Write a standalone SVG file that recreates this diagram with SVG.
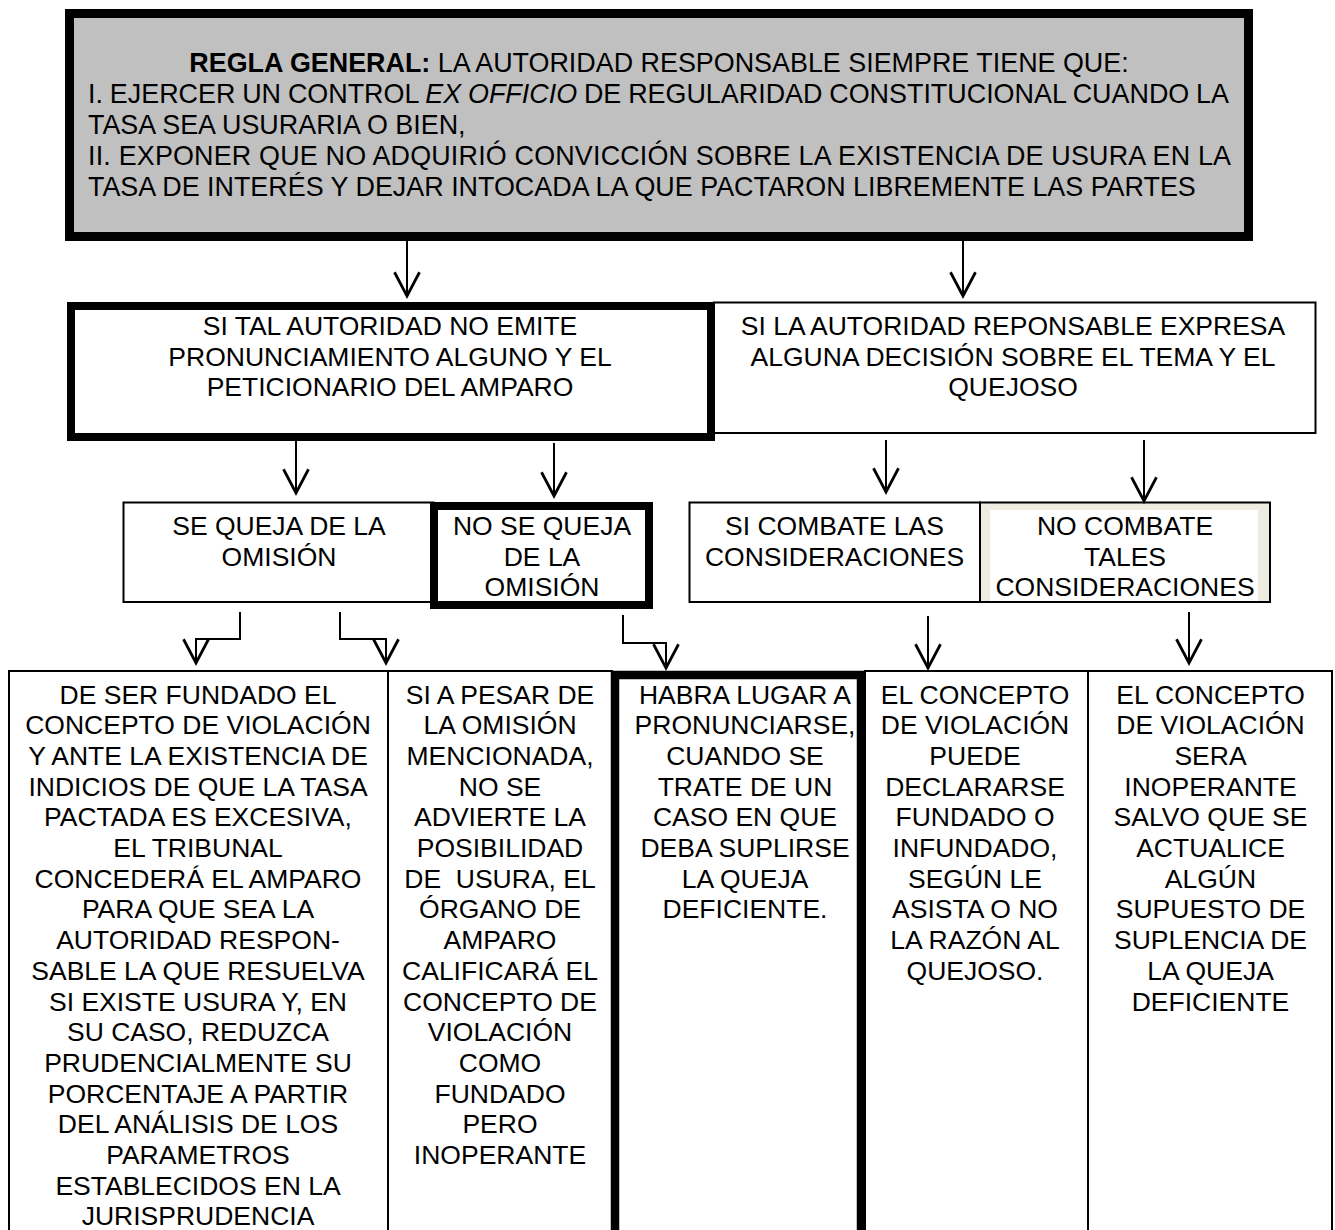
<svg xmlns="http://www.w3.org/2000/svg" width="1335" height="1230" viewBox="0 0 1335 1230">
<style>
text{font-family:"Liberation Sans",Arial,sans-serif;font-size:26.5px;fill:#000}
.top{font-size:26.9px}
.c{text-anchor:middle}
.thin{fill:#fff;stroke:#000;stroke-width:2}
.conn{fill:none;stroke:#000;stroke-width:2}
</style>
<defs>
<marker id="arr" markerUnits="userSpaceOnUse" markerWidth="30" markerHeight="30" refX="0" refY="0" viewBox="-22 -12 24 24" orient="auto" overflow="visible">
<path d="M-19,-10 L0,0 L-19,10" fill="none" stroke="#000" stroke-width="2.2"/>
</marker>
</defs>
<rect width="1335" height="1230" fill="#fff"/>

<g id="regla-general">
<rect x="69.5" y="13.5" width="1179" height="223" fill="#c0c0c0" stroke="#000" stroke-width="9"/>
<text class="c top" x="659" y="72"><tspan font-weight="bold">REGLA GENERAL:</tspan> LA AUTORIDAD RESPONSABLE SIEMPRE TIENE QUE:</text>
<text class="top" x="88" y="103" word-spacing="-0.6">I. EJERCER UN CONTROL <tspan font-style="italic">EX OFFICIO</tspan> DE REGULARIDAD CONSTITUCIONAL CUANDO LA</text>
<text class="top" x="88" y="134">TASA SEA USURARIA O BIEN,</text>
<text class="top" x="88" y="165" textLength="1143" lengthAdjust="spacing">II. EXPONER QUE NO ADQUIRIÓ CONVICCIÓN SOBRE LA EXISTENCIA DE USURA EN LA</text>
<text class="top" x="88" y="196">TASA DE INTERÉS Y DEJAR INTOCADA LA QUE PACTARON LIBREMENTE LAS PARTES</text>
</g>

<g id="expresa-decision">
<rect class="thin" x="714" y="302.5" width="601.5" height="130.5"/>
<text class="c" x="1013"><tspan x="1013" y="335">SI LA AUTORIDAD REPONSABLE EXPRESA</tspan><tspan x="1013" y="366">ALGUNA DECISIÓN SOBRE EL TEMA Y EL</tspan><tspan x="1013" y="396">QUEJOSO</tspan></text>
</g>

<g id="no-emite">
<rect x="71" y="306" width="640" height="131" fill="#fff" stroke="#000" stroke-width="8"/>
<text class="c" x="390"><tspan x="390" y="335">SI TAL AUTORIDAD NO EMITE</tspan><tspan x="390" y="366">PRONUNCIAMIENTO ALGUNO Y EL</tspan><tspan x="390" y="396">PETICIONARIO DEL AMPARO</tspan></text>
</g>

<g id="se-queja">
<rect class="thin" x="123.5" y="502.5" width="310" height="99.5"/>
<text class="c" x="279"><tspan x="279" y="535">SE QUEJA DE LA</tspan><tspan x="279" y="566">OMISIÓN</tspan></text>
</g>

<g id="no-se-queja">
<rect x="434" y="506" width="215" height="99" fill="#fff" stroke="#000" stroke-width="8"/>
<text class="c" x="542"><tspan x="542" y="535">NO SE QUEJA</tspan><tspan x="542" y="566">DE LA</tspan><tspan x="542" y="596">OMISIÓN</tspan></text>
</g>

<g id="si-combate">
<rect class="thin" x="689.5" y="502.5" width="290.5" height="99.5"/>
<text class="c" x="834.5"><tspan x="834.5" y="535">SI COMBATE LAS</tspan><tspan x="834.5" y="566">CONSIDERACIONES</tspan></text>
</g>

<g id="no-combate">
<rect x="980" y="502.5" width="290" height="99.5" fill="#eeece1" stroke="#000" stroke-width="2"/>
<rect x="990" y="510" width="268" height="91" fill="#fff"/>
<text class="c" x="1125"><tspan x="1125" y="535">NO COMBATE</tspan><tspan x="1125" y="566">TALES</tspan><tspan x="1125" y="596">CONSIDERACIONES</tspan></text>
</g>

<g id="fundado-concepto">
<rect class="thin" x="9" y="671" width="379" height="600"/>
<text class="c" x="198"><tspan x="198" y="703.5">DE SER FUNDADO EL</tspan><tspan x="198" y="734.2">CONCEPTO DE VIOLACIÓN</tspan><tspan x="198" y="764.9">Y ANTE LA EXISTENCIA DE</tspan><tspan x="198" y="795.6">INDICIOS DE QUE LA TASA</tspan><tspan x="198" y="826.3">PACTADA ES EXCESIVA,</tspan><tspan x="198" y="857">EL TRIBUNAL</tspan><tspan x="198" y="887.7">CONCEDERÁ EL AMPARO</tspan><tspan x="198" y="918.4">PARA QUE SEA LA</tspan><tspan x="198" y="949.1">AUTORIDAD RESPON-</tspan><tspan x="198" y="979.8">SABLE LA QUE RESUELVA</tspan><tspan x="198" y="1010.5">SI EXISTE USURA Y, EN</tspan><tspan x="198" y="1041.2">SU CASO, REDUZCA</tspan><tspan x="198" y="1071.9">PRUDENCIALMENTE SU</tspan><tspan x="198" y="1102.6">PORCENTAJE A PARTIR</tspan><tspan x="198" y="1133.3">DEL ANÁLISIS DE LOS</tspan><tspan x="198" y="1164">PARAMETROS</tspan><tspan x="198" y="1194.7">ESTABLECIDOS EN LA</tspan><tspan x="198" y="1225.4">JURISPRUDENCIA</tspan></text>
</g>

<g id="a-pesar-omision">
<rect class="thin" x="388" y="671" width="224" height="600"/>
<text class="c" x="500" xml:space="preserve"><tspan x="500" y="703.5">SI A PESAR DE</tspan><tspan x="500" y="734.2">LA OMISIÓN</tspan><tspan x="500" y="764.9">MENCIONADA,</tspan><tspan x="500" y="795.6">NO SE</tspan><tspan x="500" y="826.3">ADVIERTE LA</tspan><tspan x="500" y="857">POSIBILIDAD</tspan><tspan x="500" y="887.7">DE  USURA, EL</tspan><tspan x="500" y="918.4">ÓRGANO DE</tspan><tspan x="500" y="949.1">AMPARO</tspan><tspan x="500" y="979.8">CALIFICARÁ EL</tspan><tspan x="500" y="1010.5">CONCEPTO DE</tspan><tspan x="500" y="1041.2">VIOLACIÓN</tspan><tspan x="500" y="1071.9">COMO</tspan><tspan x="500" y="1102.6">FUNDADO</tspan><tspan x="500" y="1133.3">PERO</tspan><tspan x="500" y="1164">INOPERANTE</tspan></text>
</g>

<g id="puede-declararse">
<rect class="thin" x="865" y="671" width="223" height="600"/>
<text class="c" x="975"><tspan x="975" y="703.5">EL CONCEPTO</tspan><tspan x="975" y="734.2">DE VIOLACIÓN</tspan><tspan x="975" y="764.9">PUEDE</tspan><tspan x="975" y="795.6">DECLARARSE</tspan><tspan x="975" y="826.3">FUNDADO O</tspan><tspan x="975" y="857">INFUNDADO,</tspan><tspan x="975" y="887.7">SEGÚN LE</tspan><tspan x="975" y="918.4">ASISTA O NO</tspan><tspan x="975" y="949.1">LA RAZÓN AL</tspan><tspan x="975" y="979.8">QUEJOSO.</tspan></text>
</g>

<g id="sera-inoperante">
<rect class="thin" x="1088" y="671" width="244" height="600"/>
<text class="c" x="1210.5"><tspan x="1210.5" y="703.5">EL CONCEPTO</tspan><tspan x="1210.5" y="734.2">DE VIOLACIÓN</tspan><tspan x="1210.5" y="764.9">SERA</tspan><tspan x="1210.5" y="795.6">INOPERANTE</tspan><tspan x="1210.5" y="826.3">SALVO QUE SE</tspan><tspan x="1210.5" y="857">ACTUALICE</tspan><tspan x="1210.5" y="887.7">ALGÚN</tspan><tspan x="1210.5" y="918.4">SUPUESTO DE</tspan><tspan x="1210.5" y="949.1">SUPLENCIA DE</tspan><tspan x="1210.5" y="979.8">LA QUEJA</tspan><tspan x="1210.5" y="1010.5">DEFICIENTE</tspan></text>
</g>

<g id="habra-lugar">
<rect x="615" y="675" width="246" height="600" fill="#fff" stroke="#000" stroke-width="8.5"/>
<text class="c" x="745"><tspan x="745" y="703.5">HABRA LUGAR A</tspan><tspan x="745" y="734.2">PRONUNCIARSE,</tspan><tspan x="745" y="764.9">CUANDO SE</tspan><tspan x="745" y="795.6">TRATE DE UN</tspan><tspan x="745" y="826.3">CASO EN QUE</tspan><tspan x="745" y="857">DEBA SUPLIRSE</tspan><tspan x="745" y="887.7">LA QUEJA</tspan><tspan x="745" y="918.4">DEFICIENTE.</tspan></text>
</g>

<g id="connectors">
<path class="conn" d="M407,241 V296" marker-end="url(#arr)"/>
<path class="conn" d="M963,241 V296" marker-end="url(#arr)"/>
<path class="conn" d="M296,441 V493" marker-end="url(#arr)"/>
<path class="conn" d="M554,443 V496" marker-end="url(#arr)"/>
<path class="conn" d="M886,440 V492" marker-end="url(#arr)"/>
<path class="conn" d="M1144,440 V501" marker-end="url(#arr)"/>
<path class="conn" d="M240,612 V639 H196 V663" marker-end="url(#arr)"/>
<path class="conn" d="M340,612 V639 H386 V663" marker-end="url(#arr)"/>
<path class="conn" d="M623,615 V643 H666 V668" marker-end="url(#arr)"/>
<path class="conn" d="M928,616 V668" marker-end="url(#arr)"/>
<path class="conn" d="M1189,612 V663" marker-end="url(#arr)"/>
</g>
</svg>
